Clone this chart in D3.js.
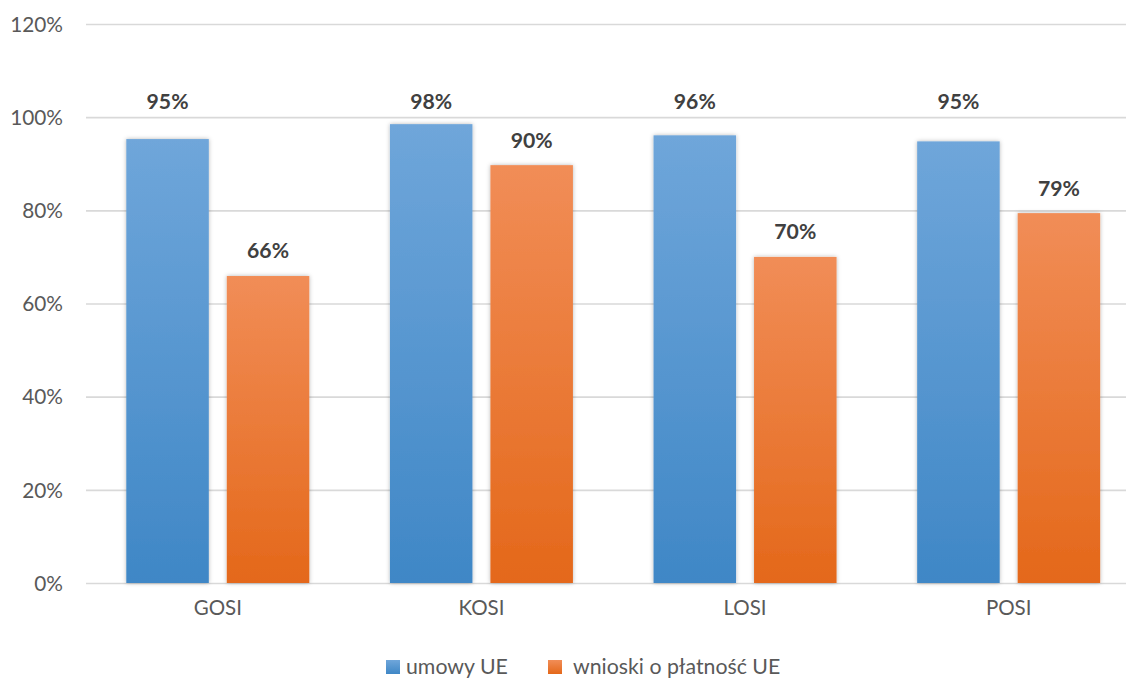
<!DOCTYPE html>
<html>
<head>
<meta charset="utf-8">
<script src="https://cdn.jsdelivr.net/npm/d3@7"></script>
<style>
  html, body { margin: 0; padding: 0; background: #fff; }
  svg { display: block; font-family: Lato, "Open Sans", sans-serif; }
</style>
</head>
<body>
<svg id="chart" width="1126" height="679"></svg>
<script>
const categories = ["GOSI", "KOSI", "LOSI", "POSI"];
const seriesNames = ["umowy UE", "wnioski o płatność UE"];
const umowy = [0.953, 0.985, 0.961, 0.948];
const wnioski = [0.659, 0.897, 0.700, 0.794];
const labelsUmowy = ["95%", "98%", "96%", "95%"];
const labelsWnioski = ["66%", "90%", "70%", "79%"];
const yTicks = [0, 0.2, 0.4, 0.6, 0.8, 1.0, 1.2];

(function () {
const svg = d3.select("#chart");
const mLeft = 86, mRight = 1140.5, mTop = 24, mBottom = 583;

const x0 = d3.scaleBand().domain(categories).range([mLeft, mRight]).paddingInner(0).paddingOuter(0);
const x1 = d3.scaleBand().domain(seriesNames).range([40.3, 223.3]).paddingInner(0.179).paddingOuter(0);
const y = d3.scaleLinear().domain([0, 1.2]).range([mBottom, mTop]);

const defs = svg.append("defs");
function grad(id, c1, c2) {
  const g = defs.append("linearGradient").attr("id", id).attr("x1", 0).attr("y1", 0).attr("x2", 0).attr("y2", 1);
  g.append("stop").attr("offset", "0%").attr("stop-color", c1);
  g.append("stop").attr("offset", "100%").attr("stop-color", c2);
}
grad("gBlue", "#6fa6da", "#3f87c6");
grad("gOrange", "#f18d57", "#e4681a");
const f = defs.append("filter").attr("id", "shadow").attr("x", "-20%").attr("y", "-20%").attr("width", "140%").attr("height", "140%");
f.append("feDropShadow").attr("dx", 0).attr("dy", 0).attr("stdDeviation", 2.2).attr("flood-color", "#000").attr("flood-opacity", 0.28);

// gridlines + y labels
const yAxis = d3.axisLeft(y).tickValues(yTicks).tickSize(-(mRight - mLeft)).tickFormat(d => Math.round(d * 100) + "%");
const gy = svg.append("g").attr("transform", `translate(${mLeft},0)`).call(yAxis);
gy.select(".domain").remove();
gy.selectAll(".tick line").attr("stroke", "#d9d9d9").attr("stroke-width", 1.6);
gy.selectAll(".tick text").attr("x", -23).attr("fill", "#595959").attr("font-size", "20.8px").attr("font-family", "Lato, sans-serif").attr("dy", "0.35em");

// x axis labels
const xAxis = d3.axisBottom(x0).tickSize(0);
const gx = svg.append("g").attr("transform", `translate(0,${mBottom})`).call(xAxis);
gx.select(".domain").remove();
gx.selectAll(".tick text").attr("fill", "#595959").attr("font-size", "20.5px").attr("font-family", "Lato, sans-serif").attr("y", 32).attr("dy", "0");

const series = [
  { name: seriesNames[0], values: umowy, labels: labelsUmowy, fill: "url(#gBlue)" },
  { name: seriesNames[1], values: wnioski, labels: labelsWnioski, fill: "url(#gOrange)" }
];

series.forEach((s, si) => {
  const g = svg.append("g");
  g.selectAll("rect").data(categories).join("rect")
    .attr("x", c => x0(c) + x1(s.name))
    .attr("width", x1.bandwidth())
    .attr("y", (c, i) => y(s.values[i]))
    .attr("height", (c, i) => mBottom - y(s.values[i]))
    .attr("fill", s.fill)
    .attr("filter", "url(#shadow)");
  g.selectAll("text").data(categories).join("text")
    .attr("x", c => x0(c) + x1(s.name) + x1.bandwidth() / 2)
    .attr("y", (c, i) => si === 0 ? y(1.0) - 16 : y(s.values[i]) - 25)
    .attr("dy", "0.35em")
    .attr("text-anchor", "middle")
    .attr("font-weight", "bold")
    .attr("font-size", "21.2px")
    .attr("fill", "#404040")
    .text((c, i) => s.labels[i]);
});

// legend
const legend = svg.append("g");
const legendItems = [
  { name: seriesNames[0], x: 386, fill: "url(#gBlue)" },
  { name: seriesNames[1], x: 548, fill: "url(#gOrange)" }
];
legendItems.forEach((it, i) => {
  legend.append("rect").attr("x", it.x).attr("y", 660).attr("width", 14).attr("height", 14).attr("fill", it.fill);
  legend.append("text").attr("x", it.x + (i === 0 ? 20 : 25)).attr("y", 673.5)
    .attr("font-size", "21.3px").attr("fill", "#595959").text(it.name);
});
})();
</script>
</body>
</html>
